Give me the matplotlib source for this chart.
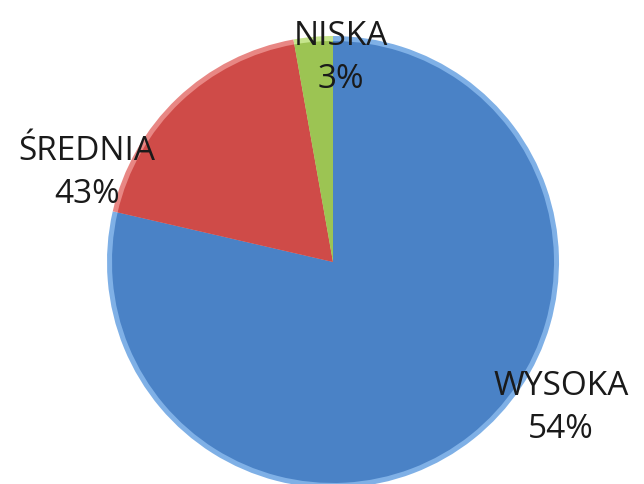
import matplotlib

matplotlib.use("Agg")

import matplotlib.pyplot as plt

# slice sizes as drawn in the picture (the printed labels differ from the angles)
categories = ["WYSOKA", "ŚREDNIA", "NISKA"]
slice_share = [78.6, 18.6, 2.8]
label_pct = ["54%", "43%", "3%"]

COLORS = ["#4a82c6", "#cf4b48", "#9cc453"]
RIMS = ["#7fb0e6", "#e88784", "#c6e58d"]

# label anchor points in pixel coordinates (y measured from the bottom)
LABEL_POS = [(561, 76), (87, 311), (341, 426)]

CENTER = (333, 222)
RADIUS = 226


def main() -> None:
    plt.rcParams["font.family"] = ["Open Sans", "DejaVu Sans"]
    fig = plt.figure(figsize=(6.44, 4.84), dpi=100)
    ax = fig.add_axes([0, 0, 1, 1])

    # lighter rim, then main body slightly smaller for a bevel look
    ax.pie(slice_share, colors=RIMS, startangle=90, counterclock=False,
           center=CENTER, radius=RADIUS, frame=True,
           wedgeprops={"linewidth": 0})
    ax.pie(slice_share, colors=COLORS, startangle=90, counterclock=False,
           center=CENTER, radius=RADIUS - 5, frame=True,
           wedgeprops={"linewidth": 0})
    ax.set_xlim(0, 644)
    ax.set_ylim(0, 484)
    ax.set_aspect("equal")
    ax.axis("off")

    for name, pct, (x, y) in zip(categories, label_pct, LABEL_POS):
        ax.text(x, y, f"{name}\n{pct}", ha="center", va="center",
                fontsize=24, color="#1a1a1a", linespacing=1.4)

    fig.savefig("out.png", dpi=100)
    plt.close(fig)


if __name__ == "__main__":
    main()
